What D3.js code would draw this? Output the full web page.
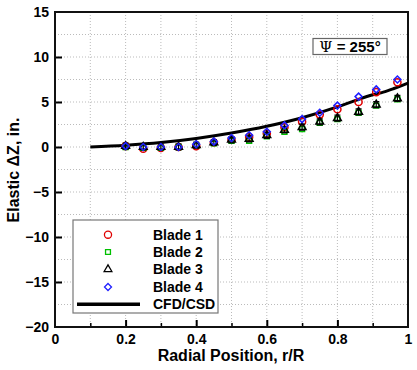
<!DOCTYPE html>
<html><head><meta charset="utf-8">
<script src="https://cdn.jsdelivr.net/npm/d3@7"></script>
<style>body{margin:0;background:#fff}svg{display:block}text{font-family:"Liberation Sans",Arial,sans-serif;font-weight:bold}</style>
</head><body><svg id="c" width="417" height="370"></svg>
<script>
const radial = [0.2,0.25,0.3,0.35,0.4,0.45,0.5,0.55,0.6,0.65,0.7,0.75,0.8,0.86,0.91,0.97];
const blade1 = [0.1,-0.2,-0.1,0.0,0.1,0.5,0.8,1.1,1.5,2.2,2.8,3.6,4.2,5.0,6.1,7.2];
const blade2 = [0.0,-0.1,-0.1,0.0,0.2,0.4,0.7,0.7,1.2,1.7,2.0,2.7,3.1,3.8,4.6,5.3];
const blade3 = [0.1,0.0,0.0,0.0,0.2,0.5,0.8,0.9,1.3,1.9,2.2,2.8,3.2,3.9,4.7,5.4];
const blade4 = [0.1,0.0,0.0,0.0,0.3,0.6,1.0,1.3,1.7,2.4,3.1,3.8,4.6,5.6,6.4,7.5];
const cfdR = [0.1,0.2,0.3,0.4,0.5,0.6,0.7,0.8,0.85,0.9,0.93,0.96,1.0];
const cfdZ = [0.0,0.2,0.5,0.95,1.55,2.3,3.25,4.45,5.15,5.8,6.1,6.5,7.1];
const xTicks = [0,0.2,0.4,0.6,0.8,1];
const yTicks = [15,10,5,0,-5,-10,-15,-20];
const seriesNames = ["Blade 1","Blade 2","Blade 3","Blade 4"];
const lineName = "CFD/CSD";

const svg = d3.select("#c");
const x = d3.scaleLinear().domain([0,1]).range([55,408]);
const y = d3.scaleLinear().domain([-20,15]).range([327,12]);

// grid
const gx = d3.range(0.1,1.0001,0.1), gy = d3.range(-17.5,15.001,2.5);
svg.append("g").selectAll("line").data(gx).join("line")
  .attr("x1",d=>x(d)).attr("x2",d=>x(d)).attr("y1",y(15)).attr("y2",y(-20))
  .attr("stroke","#bbb").attr("stroke-width",1).attr("stroke-dasharray","1,2");
svg.append("g").selectAll("line").data(gy).join("line")
  .attr("x1",x(0)).attr("x2",x(1)).attr("y1",d=>y(d)).attr("y2",d=>y(d))
  .attr("stroke","#bbb").attr("stroke-width",1).attr("stroke-dasharray","1,2");

// axes (inward ticks)
const xa = svg.append("g").attr("transform",`translate(0,${y(-20)})`)
  .call(d3.axisBottom(x).tickValues(xTicks).tickSize(-7).tickPadding(7).tickFormat(d=>d===0||d===1?d3.format("d")(d):d3.format(".1f")(d)));
xa.select(".domain").remove();
xa.selectAll("line").attr("stroke","#000").attr("stroke-width",2);
xa.selectAll("text").attr("font-size",14).attr("fill","#000");
xa.selectAll(".tick").filter(d=>d===0||d===1).select("line").remove();
const xm = svg.append("g").attr("transform",`translate(0,${y(-20)})`)
  .call(d3.axisBottom(x).tickValues([0.1,0.3,0.5,0.7,0.9]).tickSize(-4).tickFormat(""));
xm.select(".domain").remove(); xm.selectAll("line").attr("stroke","#000").attr("stroke-width",1.5);

const ya = svg.append("g").attr("transform",`translate(${x(0)},0)`)
  .call(d3.axisLeft(y).tickValues(yTicks).tickSize(-7).tickPadding(6));
ya.select(".domain").remove();
ya.selectAll("line").attr("stroke","#000").attr("stroke-width",2);
ya.selectAll("text").attr("font-size",14).attr("fill","#000");
ya.selectAll(".tick").filter(d=>d===-20||d===15).select("line").remove();

// frame
svg.append("rect").attr("x",x(0)).attr("y",y(15)).attr("width",x(1)-x(0)).attr("height",y(-20)-y(15))
  .attr("fill","none").attr("stroke","#111").attr("stroke-width",2);

// CFD line
const line = d3.line().x((d,i)=>x(cfdR[i])).y(d=>y(d)).curve(d3.curveMonotoneX);
svg.append("path").attr("d",line(cfdZ)).attr("fill","none").attr("stroke","#000").attr("stroke-width",3);

// markers
const colors = ["#e00000","#00c000","#000000","#2020ff"];
const diamond = {draw(ctx,size){const r=Math.sqrt(size)/2*1.2;ctx.moveTo(0,-r);ctx.lineTo(r,0);ctx.lineTo(0,r);ctx.lineTo(-r,0);ctx.closePath();}};
const shapes = [d3.symbolCircle,d3.symbolSquare,d3.symbolTriangle,diamond];
const sizes = [40,24,26,34];
const blades = [blade1,blade2,blade3,blade4];
blades.forEach((vals,k)=>{
  const g = svg.append("g");
  vals.forEach((v,i)=>{
    const px = x(radial[i]), py = y(v);
    if(k===2){
      g.append("path").attr("d",`M${px},${py-3}V${py+3}M${px-3},${py-3}H${px+3}M${px-3},${py+3}H${px+3}`)
        .attr("stroke",colors[k]).attr("stroke-width",1.2).attr("fill","none");
    }
    g.append("path").attr("d",d3.symbol().type(shapes[k]).size(sizes[k])())
      .attr("transform",`translate(${px},${py})`).attr("fill","none")
      .attr("stroke",colors[k]).attr("stroke-width",1.5);
  });
});

// legend
svg.append("rect").attr("x",73).attr("y",220).attr("width",145).attr("height",93)
  .attr("fill","#fff").attr("stroke","#777").attr("stroke-width",1.2);
const rows = [234.7,252,269.3,287,304.3];
seriesNames.forEach((n,k)=>{
  svg.append("path").attr("d",d3.symbol().type(shapes[k]).size(sizes[k])())
    .attr("transform",`translate(108,${rows[k]})`).attr("fill","none").attr("stroke",colors[k]).attr("stroke-width",1.3);
  svg.append("text").attr("x",153).attr("y",rows[k]).attr("dy","0.36em").attr("font-size",14).text(n);
});
svg.append("line").attr("x1",77).attr("x2",140).attr("y1",rows[4]).attr("y2",rows[4]).attr("stroke","#000").attr("stroke-width",3.5);
svg.append("text").attr("x",153).attr("y",rows[4]).attr("dy","0.36em").attr("font-size",14).text(lineName);

// psi box
svg.append("rect").attr("x",313).attr("y",38.5).attr("width",74).attr("height",16)
  .attr("fill","#fff").attr("stroke","#666").attr("stroke-width",1.2);
const pt = svg.append("text").attr("x",350).attr("y",47).attr("dy","0.36em").attr("text-anchor","middle").attr("font-size",15);
pt.append("tspan").attr("font-family","DejaVu Serif").attr("font-weight","normal").text("Ψ");
pt.append("tspan").text(" = 255°");

// axis titles
svg.append("text").attr("x",231).attr("y",361).attr("text-anchor","middle").attr("font-size",16).text("Radial Position, r/R");
svg.append("text").attr("transform","translate(19,170) rotate(-90)").attr("text-anchor","middle").attr("font-size",16).text("Elastic ΔZ, in.");
</script></body></html>
